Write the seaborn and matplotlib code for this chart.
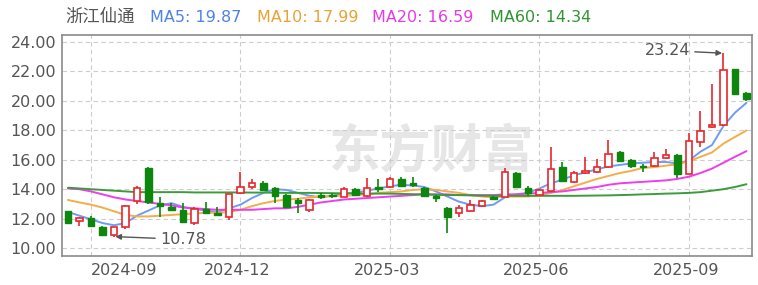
import numpy as np
import pandas as pd
import matplotlib
matplotlib.use("Agg")
import matplotlib.pyplot as plt
import matplotlib.transforms as mtransforms
import seaborn as sns

# ---------------- data ----------------
stock_name = "浙江仙通"
dates = pd.date_range("2024-08-23", periods=60, freq="W-FRI")

opens = [12.50, 11.85, 12.05, 11.45, 10.90, 11.40, 13.20, 15.45, 13.05, 12.80,
         12.60, 11.70, 12.65, 12.40, 12.10, 13.75, 14.15, 14.40, 14.05, 13.60,
         13.25, 12.60, 13.60, 13.60, 13.50, 14.00, 13.55, 14.15, 14.15, 14.70,
         14.45, 14.10, 13.55, 12.75, 12.40, 12.50, 12.85, 13.45, 13.50, 15.10,
         14.05, 13.60, 13.85, 15.50, 14.50, 15.10, 15.15, 15.50, 16.55, 16.00,
         15.55, 15.60, 16.10, 16.30, 15.05, 17.20, 18.20, 18.35, 22.15, 20.55]
highs = [12.55, 12.10, 12.18, 11.48, 11.45, 12.90, 14.20, 15.50, 13.50, 13.05,
         13.05, 12.80, 13.10, 12.80, 13.70, 15.20, 14.70, 14.55, 14.15, 13.65,
         13.40, 13.30, 13.75, 13.75, 14.15, 14.05, 14.75, 14.70, 14.85, 14.85,
         14.85, 14.15, 13.60, 12.80, 12.95, 13.25, 13.25, 13.55, 15.45, 15.20,
         14.20, 14.00, 16.85, 15.85, 15.25, 16.20, 16.05, 17.35, 16.60, 16.05,
         15.70, 16.55, 16.75, 16.40, 17.80, 19.30, 21.15, 23.24, 22.20, 20.60]
lows = [11.65, 11.50, 11.45, 10.88, 10.78, 11.30, 13.00, 13.00, 12.10, 12.55,
        11.70, 11.60, 12.35, 12.20, 11.90, 13.70, 14.00, 13.90, 13.05, 12.75,
        12.40, 12.45, 13.35, 13.40, 13.45, 13.55, 13.50, 13.80, 14.10, 14.15,
        14.15, 13.45, 13.10, 11.00, 12.10, 12.45, 12.80, 13.25, 13.45, 14.10,
        13.55, 13.55, 13.80, 14.50, 14.45, 15.05, 15.10, 15.45, 15.85, 15.45,
        15.15, 15.50, 16.05, 14.75, 15.00, 16.90, 18.15, 18.30, 20.40, 20.00]
closes = [11.70, 12.05, 11.50, 10.90, 11.40, 12.85, 14.10, 13.10, 12.85, 12.60,
          11.75, 12.65, 12.40, 12.25, 13.65, 14.15, 14.40, 13.95, 13.55, 12.80,
          13.05, 13.25, 13.50, 13.55, 14.00, 13.60, 14.05, 14.00, 14.70, 14.20,
          14.30, 13.55, 13.40, 12.10, 12.70, 12.95, 13.20, 13.35, 15.15, 14.15,
          13.75, 13.95, 15.35, 14.55, 15.10, 15.25, 15.50, 16.40, 15.90, 15.60,
          15.50, 16.10, 16.30, 15.00, 17.30, 17.95, 18.35, 22.10, 20.50, 20.10]

ma5 = [12.45, 12.20, 11.95, 11.70, 11.55, 11.70, 12.20, 12.55, 12.90, 13.05,
       12.80, 12.65, 12.55, 12.45, 12.70, 12.95, 13.40, 13.75, 14.00, 13.95,
       13.75, 13.55, 13.45, 13.55, 13.70, 13.75, 13.90, 14.05, 14.20, 14.30,
       14.25, 14.15, 13.85, 13.50, 13.15, 12.95, 12.85, 12.95, 13.45, 13.65,
       13.75, 14.05, 14.40, 14.65, 14.95, 15.15, 15.35, 15.55, 15.65, 15.75,
       15.80, 15.85, 15.85, 15.75, 15.95, 16.55, 17.00, 18.30, 19.20, 19.87]
ma10 = [13.27, 13.10, 12.95, 12.75, 12.50, 12.25, 12.15, 12.15, 12.20, 12.25,
        12.30, 12.35, 12.40, 12.40, 12.45, 12.60, 12.85, 13.05, 13.20, 13.30,
        13.35, 13.45, 13.50, 13.55, 13.55, 13.60, 13.65, 13.75, 13.80, 13.85,
        13.95, 14.00, 13.95, 13.85, 13.75, 13.60, 13.50, 13.45, 13.50, 13.50,
        13.50, 13.60, 13.75, 13.95, 14.20, 14.45, 14.70, 14.90, 15.10, 15.25,
        15.45, 15.50, 15.60, 15.70, 15.90, 16.20, 16.50, 17.10, 17.55, 17.99]
ma20 = [14.05, 14.00, 13.85, 13.65, 13.45, 13.30, 13.20, 13.10, 13.00, 12.90,
        12.75, 12.70, 12.65, 12.60, 12.60, 12.60, 12.60, 12.65, 12.70, 12.70,
        12.80, 12.95, 13.10, 13.20, 13.30, 13.35, 13.40, 13.45, 13.50, 13.55,
        13.60, 13.65, 13.65, 13.65, 13.60, 13.60, 13.60, 13.60, 13.65, 13.65,
        13.70, 13.75, 13.80, 13.85, 13.95, 14.05, 14.15, 14.30, 14.40, 14.45,
        14.50, 14.55, 14.60, 14.70, 14.85, 15.10, 15.40, 15.80, 16.20, 16.59]
ma60 = [14.10, 14.05, 14.00, 13.95, 13.90, 13.85, 13.80, 13.80, 13.80, 13.80,
        13.80, 13.78, 13.78, 13.78, 13.78, 13.78, 13.77, 13.77, 13.76, 13.75,
        13.75, 13.75, 13.74, 13.73, 13.72, 13.71, 13.70, 13.70, 13.70, 13.68,
        13.66, 13.65, 13.62, 13.60, 13.60, 13.58, 13.56, 13.55, 13.55, 13.55,
        13.55, 13.55, 13.55, 13.55, 13.55, 13.56, 13.57, 13.58, 13.60, 13.62,
        13.65, 13.67, 13.70, 13.72, 13.75, 13.80, 13.90, 14.00, 14.15, 14.34]

ma_names = ["MA5", "MA10", "MA20", "MA60"]
ma_last = ["19.87", "17.99", "16.59", "14.34"]
tick_months = ["2024-09", "2024-12", "2025-03", "2025-06", "2025-09"]
y_ticks = [10, 12, 14, 16, 18, 20, 22, 24]
low_label = "10.78"
high_label = "23.24"

# ---------------- style ----------------
sns.set_theme(style="white")
plt.rcParams["font.family"] = ["DejaVu Sans", "Noto Sans CJK SC"]

RED = "#e8262b"
GREEN = "#0c860c"
ma_colors = {"MA5": "#6f9cf2", "MA10": "#f2ae48", "MA20": "#ee3ded", "MA60": "#3c9c3c"}
txt_colors = {"MA5": "#4d82e8", "MA10": "#e9a236", "MA20": "#e63ae6", "MA60": "#2f962f"}
GRAY_TXT = "#555555"

fig = plt.figure(figsize=(7.58, 2.85), dpi=100)
ax = fig.add_axes([62 / 758, 29 / 285, 690 / 758, 221 / 285])

n = len(closes)
idx = np.arange(n)
o = np.array(opens); c = np.array(closes); h = np.array(highs); l = np.array(lows)
up = c >= o

# watermark
ax.text(0.535, 0.47, "东方财富", transform=ax.transAxes, ha="center", va="center",
        fontsize=37, fontweight="bold", color="#e6e6e6", family=["Noto Sans CJK SC"], zorder=0)

# MA lines via seaborn
ma_df = pd.DataFrame({"idx": np.tile(idx, 4),
                      "value": np.concatenate([ma5, ma10, ma20, ma60]),
                      "ma": np.repeat(ma_names, n)})
sns.lineplot(data=ma_df, x="idx", y="value", hue="ma", palette=ma_colors,
             linewidth=1.4, legend=False, ax=ax, zorder=2)

# candles
w = 0.6
body_lo = np.minimum(o, c)
body_hi = np.maximum(o, c)
body_h = np.maximum(body_hi - body_lo, 0.04)
for i in range(n):
    if up[i]:
        ax.vlines(i, l[i], body_lo[i], color=RED, linewidth=1.2, zorder=3)
        ax.vlines(i, body_hi[i], h[i], color=RED, linewidth=1.2, zorder=3)
    else:
        ax.vlines(i, l[i], h[i], color=GREEN, linewidth=1.2, zorder=3)
ax.bar(idx[up], body_h[up], bottom=body_lo[up], width=w, facecolor="white",
       edgecolor=RED, linewidth=1.2, zorder=4)
ax.bar(idx[~up], body_h[~up], bottom=body_lo[~up], width=w, facecolor=GREEN,
       edgecolor=GREEN, linewidth=1.0, zorder=4)

# axes
ax.set_xlim(-0.52, n - 0.52)
ax.set_ylim(9.46, 24.48)
ax.set_yticks(y_ticks)
ax.set_yticklabels([f"{v:.2f}" for v in y_ticks])
month_str = dates.strftime("%Y-%m")
tick_pos = [int(np.argmax(month_str == m)) for m in tick_months]
ax.set_xticks(tick_pos)
ax.set_xticklabels(tick_months)
ax.tick_params(axis="both", length=0, labelsize=11.5, colors=GRAY_TXT)
ax.tick_params(axis="y", pad=4)
ax.tick_params(axis="x", pad=5)
xlabels = ax.get_xticklabels()
xlabels[0].set_horizontalalignment("left")
for lab in xlabels[1:]:
    lab.set_transform(lab.get_transform() +
                      mtransforms.ScaledTranslation(-3 / 100, 0, fig.dpi_scale_trans))
ax.set_xlabel(""); ax.set_ylabel("")
ax.grid(True, linestyle=(0, (4, 3)), color="#cccccc", linewidth=0.8)
ax.set_axisbelow(True)
for s in ax.spines.values():
    s.set_color("#8a8a8a")
    s.set_linewidth(1.2)

# annotations
low_i = int(np.argmin(l))
high_i = int(np.argmax(h))
arrow = dict(arrowstyle="-|>", color="#555555", lw=1.0, mutation_scale=8,
             shrinkA=1, shrinkB=1)
ax.annotate(low_label, xy=(low_i, l[low_i]), xytext=(33, -2), textcoords="offset points",
            ha="left", va="center", fontsize=11.5, color=GRAY_TXT, arrowprops=arrow, zorder=6)
ax.annotate(high_label, xy=(high_i, h[high_i]), xytext=(-24, 2), textcoords="offset points",
            ha="right", va="center", fontsize=11.5, color=GRAY_TXT, arrowprops=arrow, zorder=6)

# header legend
fig.text(65 / 758, 1 - 17 / 285, stock_name, ha="left", va="center", fontsize=12.5,
         color=GRAY_TXT, family=["Noto Sans CJK SC", "DejaVu Sans"])
starts = [150, 257, 372, 490]
for name, val, x0 in zip(ma_names, ma_last, starts):
    fig.text(x0 / 758, 1 - 17 / 285, f"{name}: {val}", ha="left", va="center",
             fontsize=11.5, color=txt_colors[name])

fig.savefig("out.png", dpi=100)
